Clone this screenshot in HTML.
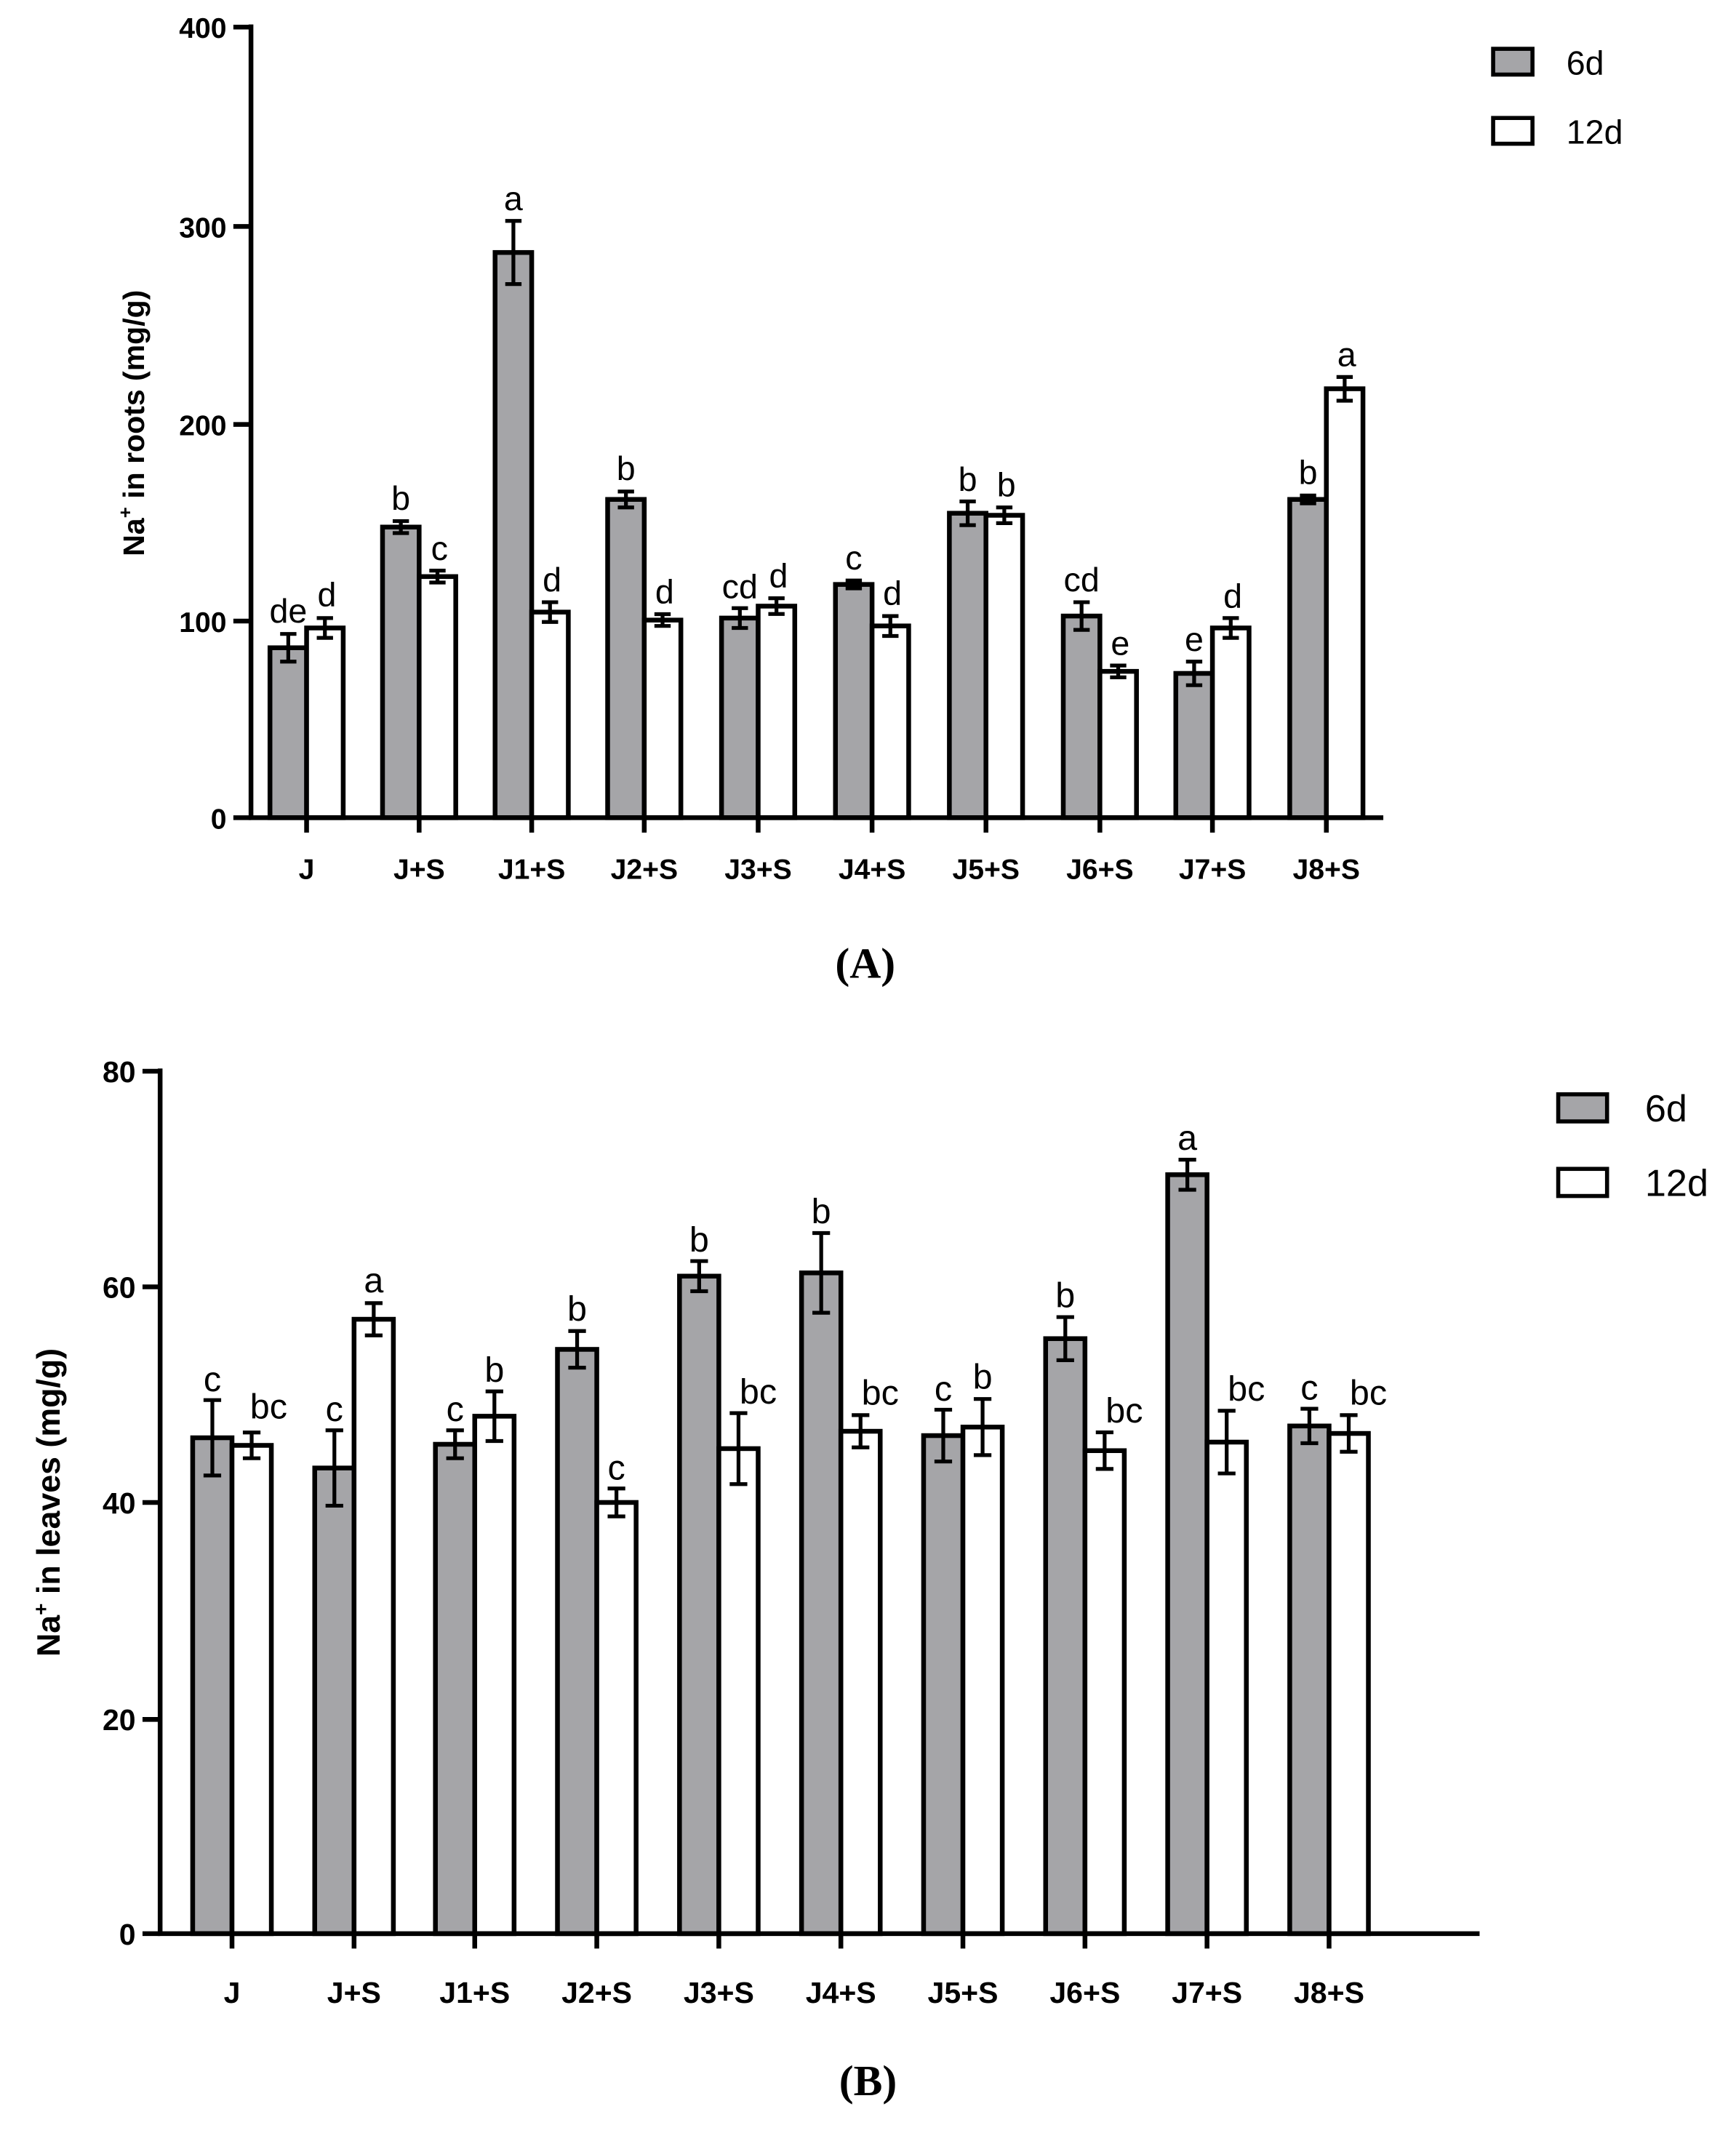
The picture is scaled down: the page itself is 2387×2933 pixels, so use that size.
<!DOCTYPE html>
<html><head><meta charset="utf-8"><style>
html,body{margin:0;padding:0;background:#fff;}
svg{display:block;}
text{font-family:"Liberation Sans",Arial,sans-serif;}
</style></head><body>
<svg width="2387" height="2933" viewBox="0 0 1280 1573" xmlns="http://www.w3.org/2000/svg">
<rect width="1280" height="1573" fill="#fff"/>
<g stroke="#000" stroke-width="3.5" fill="#a5a5a8">
<rect x="199" y="477.7" width="27" height="125.3"/>
<rect x="282" y="388.7" width="27" height="214.3"/>
<rect x="365" y="186.2" width="27" height="416.8"/>
<rect x="448" y="368.3" width="27" height="234.7"/>
<rect x="532" y="455.8" width="27" height="147.2"/>
<rect x="616" y="431.0" width="27" height="172"/>
<rect x="700" y="378.5" width="27" height="224.5"/>
<rect x="784" y="454.3" width="27" height="148.7"/>
<rect x="867" y="496.6" width="27" height="106.4"/>
<rect x="951" y="368.3" width="27" height="234.7"/>
</g>
<g stroke="#000" stroke-width="3.5" fill="#fff">
<rect x="226" y="463.1" width="27" height="139.9"/>
<rect x="309" y="425.2" width="27" height="177.8"/>
<rect x="392" y="451.4" width="27" height="151.6"/>
<rect x="475" y="457.3" width="27" height="145.7"/>
<rect x="559" y="447.0" width="27" height="156"/>
<rect x="643" y="461.6" width="27" height="141.4"/>
<rect x="727" y="380.0" width="27" height="223"/>
<rect x="811" y="495.1" width="27" height="107.9"/>
<rect x="894" y="463.1" width="27" height="139.9"/>
<rect x="978" y="286.7" width="27" height="316.3"/>
</g>
<g stroke="#000" stroke-width="2.8" fill="none">
<path d="M212.5 467.5V487.9M206.5 467.5h12M206.5 487.9h12"/>
<path d="M239.5 455.8V470.4M233.5 455.8h12M233.5 470.4h12"/>
<path d="M295.5 384.3V393.1M289.5 384.3h12M289.5 393.1h12"/>
<path d="M322.5 420.8V429.6M316.5 420.8h12M316.5 429.6h12"/>
<path d="M378.5 162.9V209.5M372.5 162.9h12M372.5 209.5h12"/>
<path d="M405.5 444.1V458.7M399.5 444.1h12M399.5 458.7h12"/>
<path d="M461.5 362.5V374.2M455.5 362.5h12M455.5 374.2h12"/>
<path d="M488.5 452.9V461.6M482.5 452.9h12M482.5 461.6h12"/>
<path d="M545.5 448.5V463.1M539.5 448.5h12M539.5 463.1h12"/>
<path d="M572.5 441.2V452.8M566.5 441.2h12M566.5 452.8h12"/>
<path d="M629.5 428.1V433.9M623.5 428.1h12M623.5 433.9h12"/>
<path d="M656.5 454.3V469.0M650.5 454.3h12M650.5 469.0h12"/>
<path d="M713.5 369.8V387.3M707.5 369.8h12M707.5 387.3h12"/>
<path d="M740.5 374.2V385.8M734.5 374.2h12M734.5 385.8h12"/>
<path d="M797.5 444.1V464.5M791.5 444.1h12M791.5 464.5h12"/>
<path d="M824.5 490.8V499.5M818.5 490.8h12M818.5 499.5h12"/>
<path d="M880.5 487.9V505.3M874.5 487.9h12M874.5 505.3h12"/>
<path d="M907.5 455.8V470.4M901.5 455.8h12M901.5 470.4h12"/>
<path d="M964.5 365.4V371.2M958.5 365.4h12M958.5 371.2h12"/>
<path d="M991.5 278.0V295.5M985.5 278.0h12M985.5 295.5h12"/>
</g>
<g font-size="25" text-anchor="middle" fill="#000">
<text x="212.5" y="459">de</text><text x="241" y="447">d</text>
<text x="295.5" y="376">b</text><text x="324" y="413">c</text>
<text x="378.5" y="155">a</text><text x="407" y="436">d</text>
<text x="461.5" y="354">b</text><text x="490" y="445">d</text>
<text x="545.5" y="441">cd</text><text x="574" y="433">d</text>
<text x="629.5" y="420">c</text><text x="658" y="446">d</text>
<text x="713.5" y="362">b</text><text x="742" y="366">b</text>
<text x="797.5" y="436">cd</text><text x="826" y="483">e</text>
<text x="880.5" y="480">e</text><text x="909" y="448">d</text>
<text x="964.5" y="357">b</text><text x="993" y="270">a</text>
</g>
<g stroke="#000" stroke-width="3.5" fill="none">
<path d="M185 18V603H1020"/>
<path d="M172 20H185M172 167H185M172 313H185M172 458H185M172 603H185"/>
<path d="M226 603V614M309 603V614M392 603V614M475 603V614M559 603V614M643 603V614M727 603V614M811 603V614M894 603V614M978 603V614"/>
</g>
<g font-size="21" font-weight="bold" text-anchor="end">
<text x="167" y="28">400</text><text x="167" y="175">300</text><text x="167" y="321">200</text><text x="167" y="466">100</text><text x="167" y="611">0</text>
</g>
<g font-size="21" font-weight="bold" text-anchor="middle">
<text x="226" y="648">J</text><text x="309" y="648">J+S</text><text x="392" y="648">J1+S</text><text x="475" y="648">J2+S</text><text x="559" y="648">J3+S</text><text x="643" y="648">J4+S</text><text x="727" y="648">J5+S</text><text x="811" y="648">J6+S</text><text x="894" y="648">J7+S</text><text x="978" y="648">J8+S</text>
</g>
<text transform="translate(106,312) rotate(-90)" font-size="22" font-weight="bold" text-anchor="middle">Na<tspan dy="-9" font-size="14">+</tspan><tspan dy="9"> in roots (mg/g)</tspan></text>
<rect x="1101" y="36" width="29" height="19" fill="#a5a5a8" stroke="#000" stroke-width="3"/>
<rect x="1101" y="87" width="29" height="19" fill="#fff" stroke="#000" stroke-width="3"/>
<text x="1155" y="55" font-size="25">6d</text>
<text x="1155" y="106" font-size="25">12d</text>
<text x="638" y="721" font-size="32" font-weight="bold" text-anchor="middle" style="font-family:'Liberation Serif',serif">(A)</text>

<g stroke="#000" stroke-width="3.5" fill="#a5a5a8">
<rect x="142" y="1060.3" width="29" height="365.7"/>
<rect x="232" y="1082.6" width="29" height="343.4"/>
<rect x="321" y="1065.1" width="29" height="360.9"/>
<rect x="411" y="995.1" width="29" height="430.9"/>
<rect x="501" y="941.1" width="29" height="484.9"/>
<rect x="591" y="938.7" width="29" height="487.3"/>
<rect x="681" y="1058.7" width="29" height="367.3"/>
<rect x="771" y="987.2" width="29" height="438.8"/>
<rect x="861" y="866.3" width="29" height="559.7"/>
<rect x="951" y="1051.6" width="29" height="374.4"/>
</g>
<g stroke="#000" stroke-width="3.5" fill="#fff">
<rect x="171" y="1065.9" width="29" height="360.1"/>
<rect x="261" y="972.9" width="29" height="453.1"/>
<rect x="350" y="1044.4" width="29" height="381.6"/>
<rect x="440" y="1108" width="29" height="318"/>
<rect x="530" y="1068.3" width="29" height="357.7"/>
<rect x="620" y="1055.5" width="29" height="370.5"/>
<rect x="710" y="1052.4" width="29" height="373.6"/>
<rect x="800" y="1069.8" width="29" height="356.2"/>
<rect x="890" y="1063.5" width="29" height="362.5"/>
<rect x="980" y="1057.1" width="29" height="368.9"/>
</g>
<g stroke="#000" stroke-width="2.8" fill="none">
<path d="M156.5 1032.5V1088.1M150 1032.5h13M150 1088.1h13"/>
<path d="M185.5 1056.4V1075.4M179 1056.4h13M179 1075.4h13"/>
<path d="M246.5 1054.8V1110.4M240 1054.8h13M240 1110.4h13"/>
<path d="M275.5 961.0V984.8M269 961.0h13M269 984.8h13"/>
<path d="M335.5 1054.8V1075.4M329 1054.8h13M329 1075.4h13"/>
<path d="M364.5 1026.1V1062.7M358 1026.1h13M358 1062.7h13"/>
<path d="M425.5 981.6V1008.6M419 981.6h13M419 1008.6h13"/>
<path d="M454.5 1097.7V1118.3M448 1097.7h13M448 1118.3h13"/>
<path d="M515.5 930.0V952.2M509 930.0h13M509 952.2h13"/>
<path d="M544.5 1042.1V1094.5M538 1042.1h13M538 1094.5h13"/>
<path d="M605.5 909.3V968.1M599 909.3h13M599 968.1h13"/>
<path d="M634.5 1043.6V1067.4M628 1043.6h13M628 1067.4h13"/>
<path d="M695.5 1039.6V1077.8M689 1039.6h13M689 1077.8h13"/>
<path d="M724.5 1031.7V1073.1M718 1031.7h13M718 1073.1h13"/>
<path d="M785.5 971.3V1003.1M779 971.3h13M779 1003.1h13"/>
<path d="M814.5 1056.3V1083.3M808 1056.3h13M808 1083.3h13"/>
<path d="M875.5 855.2V877.4M869 855.2h13M869 877.4h13"/>
<path d="M904.5 1040.4V1086.6M898 1040.4h13M898 1086.6h13"/>
<path d="M965.5 1038.9V1064.3M959 1038.9h13M959 1064.3h13"/>
<path d="M994.5 1043.6V1070.6M988 1043.6h13M988 1070.6h13"/>
</g>
<g font-size="26" text-anchor="middle" fill="#000">
<text x="156.5" y="1026">c</text><text x="198" y="1046">bc</text>
<text x="246.5" y="1048">c</text><text x="275.5" y="953">a</text>
<text x="335.5" y="1048">c</text><text x="364.5" y="1019">b</text>
<text x="425.5" y="974">b</text><text x="454.5" y="1091">c</text>
<text x="515.5" y="923">b</text><text x="559" y="1035">bc</text>
<text x="605.5" y="902">b</text><text x="649" y="1036">bc</text>
<text x="695.5" y="1033">c</text><text x="724.5" y="1024">b</text>
<text x="785.5" y="964">b</text><text x="829" y="1049">bc</text>
<text x="875.5" y="848">a</text><text x="919" y="1033">bc</text>
<text x="965.5" y="1032">c</text><text x="1009" y="1036">bc</text>
</g>
<g stroke="#000" stroke-width="3.5" fill="none">
<path d="M118 788V1426H1091"/>
<path d="M105 790H118M105 949H118M105 1108H118M105 1268H118M105 1426H118"/>
<path d="M171 1426V1437M261 1426V1437M350 1426V1437M440 1426V1437M530 1426V1437M620 1426V1437M710 1426V1437M800 1426V1437M890 1426V1437M980 1426V1437"/>
</g>
<g font-size="22" font-weight="bold" text-anchor="end">
<text x="100" y="798">80</text><text x="100" y="957">60</text><text x="100" y="1116">40</text><text x="100" y="1276">20</text><text x="100" y="1434">0</text>
</g>
<g font-size="22" font-weight="bold" text-anchor="middle">
<text x="171" y="1477">J</text><text x="261" y="1477">J+S</text><text x="350" y="1477">J1+S</text><text x="440" y="1477">J2+S</text><text x="530" y="1477">J3+S</text><text x="620" y="1477">J4+S</text><text x="710" y="1477">J5+S</text><text x="800" y="1477">J6+S</text><text x="890" y="1477">J7+S</text><text x="980" y="1477">J8+S</text>
</g>
<text transform="translate(44,1108) rotate(-90)" font-size="24" font-weight="bold" text-anchor="middle">Na<tspan dy="-9" font-size="15">+</tspan><tspan dy="9"> in leaves (mg/g)</tspan></text>
<rect x="1149" y="807" width="36" height="20" fill="#a5a5a8" stroke="#000" stroke-width="3"/>
<rect x="1149" y="862" width="36" height="20" fill="#fff" stroke="#000" stroke-width="3"/>
<text x="1213" y="827" font-size="28">6d</text>
<text x="1213" y="882" font-size="28">12d</text>
<text x="640" y="1545" font-size="32" font-weight="bold" text-anchor="middle" style="font-family:'Liberation Serif',serif">(B)</text>
</svg>
</body></html>
